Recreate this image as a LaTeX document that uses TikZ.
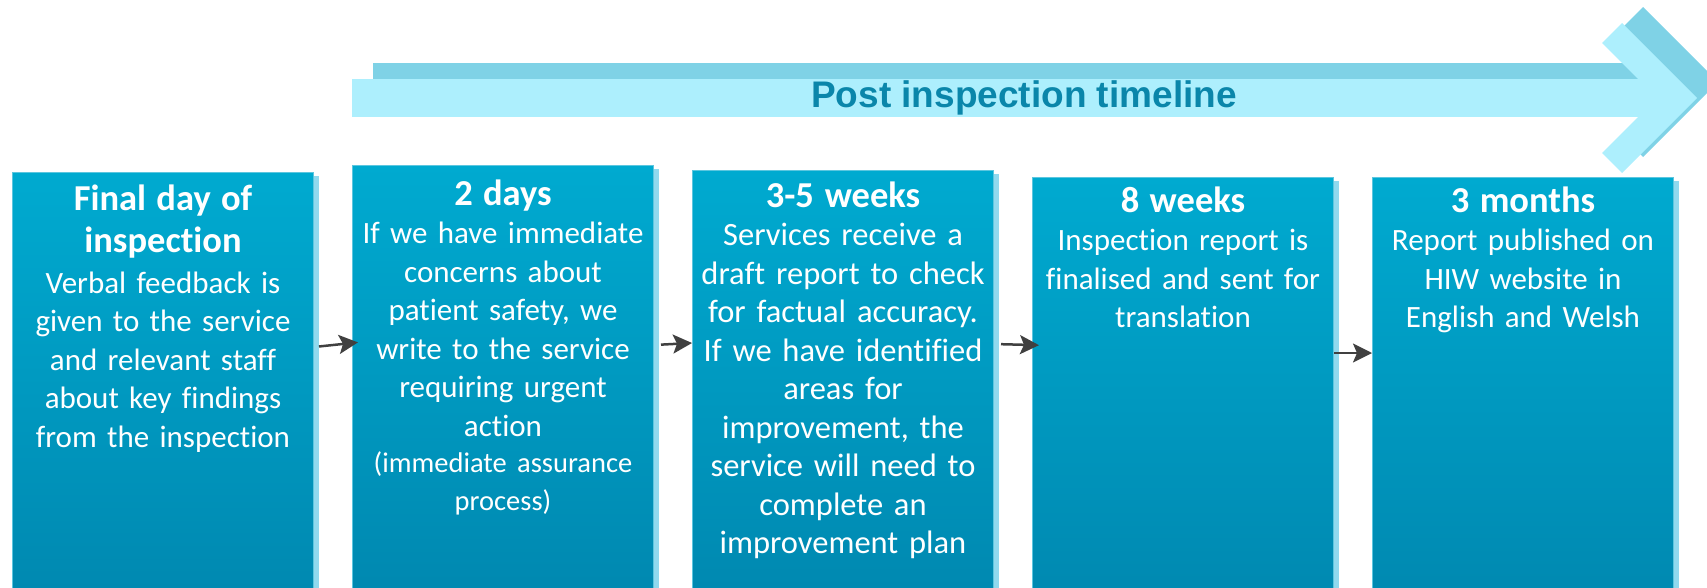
\documentclass[tikz,border=0pt]{standalone}
\usepackage{fontspec}
\setmainfont{Carlito}[Ligatures=NoCommon]
\newfontfamily\bannerfont{Liberation Sans}
\usetikzlibrary{arrows.meta,shadows}

\definecolor{bannerlight}{HTML}{ADEFFD}
\definecolor{bannerdark}{HTML}{7FD2E6}
\definecolor{bannertext}{HTML}{0A86AA}
\definecolor{stagetop}{HTML}{00AAD0}
\definecolor{stagebottom}{HTML}{0088B0}
\definecolor{stageedge}{HTML}{5CC6DF}
\definecolor{stageshadow}{HTML}{90D9EE}
\definecolor{flowgray}{HTML}{404040}

\tikzset{
	stage/.style={anchor=north west, minimum width=301pt, minimum height=430pt, inner sep=0pt,
		top color=stagetop, bottom color=stagebottom, draw=stageedge, line width=1pt,
		general shadow={shadow xshift=5pt, shadow yshift=-3pt, fill=stageshadow}},
	stagetext/.style={anchor=north, inner sep=0pt, text width=300pt, align=center, text=white,
		font=\fontsize{31}{38.5}\selectfont},
	flow/.style={draw=flowgray, line width=2.5pt, -{Stealth[length=19pt,width=19pt,inset=4pt]}}
}
\newcommand{\stagehead}[1]{{\bfseries\fontsize{36.5}{38.5}\selectfont #1}}

\begin{document}
\begin{tikzpicture}[x=1pt,y=-1pt]
	\useasboundingbox (0,0) rectangle (1707,587);
	\clip (0,0) rectangle (1707,587);

	% timeline banner (shadow first)
	\fill [bannerdark] (373,63) rectangle (1680,101);
	\fill [bannerdark] (1623,27) -- (1643,7) -- (1718,82) -- (1643,157) -- (1623,137) -- (1678,82) -- cycle;
	\fill [bannerlight] (352,79) rectangle (1660,117);
	\fill [bannerlight] (1602,43) -- (1622,23) -- (1697,98) -- (1622,173) -- (1602,153) -- (1657,98) -- cycle;
	\node [font=\bannerfont\bfseries\fontsize{37}{40}\selectfont, text=bannertext] (title) at (1024,98) {Post inspection timeline};

	% stages
	\node [stage] (s1) at (12,172) {};
	\node [stage] (s2) at (352,165) {};
	\node [stage] (s3) at (692,170) {};
	\node [stage] (s4) at (1032,177) {};
	\node [stage] (s5) at (1372,177) {};

	\node [stagetext] (t1) at (s1.north |- 0,183) {\strut\stagehead{Final day of\\[4pt]inspection}\\[2pt]Verbal feedback is\\given to the service\\and relevant staff\\about key findings\\from the inspection};
	\node [stagetext] (t2) at (s2.north |- 0,178) {\strut\stagehead{2 days}\\If we have immediate\\concerns about\\patient safety, we\\write to the service\\requiring urgent\\action\\{\fontsize{28.5}{36}\selectfont(immediate assurance\\process)}};
	\node [stagetext, font=\fontsize{32.5}{38.5}\selectfont] (t3) at (s3.north |- 0,180) {\strut\stagehead{3-5 weeks}\\Services receive a\\draft report to check\\for factual accuracy.\\If we have identified\\areas for\\improvement, the\\service will need to\\complete an\\improvement plan};
	\node [stagetext] (t4) at (s4.north |- 0,185) {\strut\stagehead{8 weeks}\\Inspection report is\\finalised and sent for\\translation};
	\node [stagetext] (t5) at (s5.north |- 0,185) {\strut\stagehead{3 months}\\Report published on\\HIW website in\\English and Welsh};

	% arrows between stages
	\draw [flow, shorten <=5pt, shorten >=-6pt] (s1.east |- 0,347) -- (s2.west |- 0,343);
	\draw [flow, shorten <=7pt] (s2.east |- 0,345) -- (s3.west |- 0,343);
	\draw [flow, shorten <=7pt, shorten >=-7pt] (s3.east |- 0,344) -- (s4.west |- 0,345);
	\draw [flow] (s4.east |- 0,353) -- (s5.west |- 0,353);
\end{tikzpicture}
\end{document}
